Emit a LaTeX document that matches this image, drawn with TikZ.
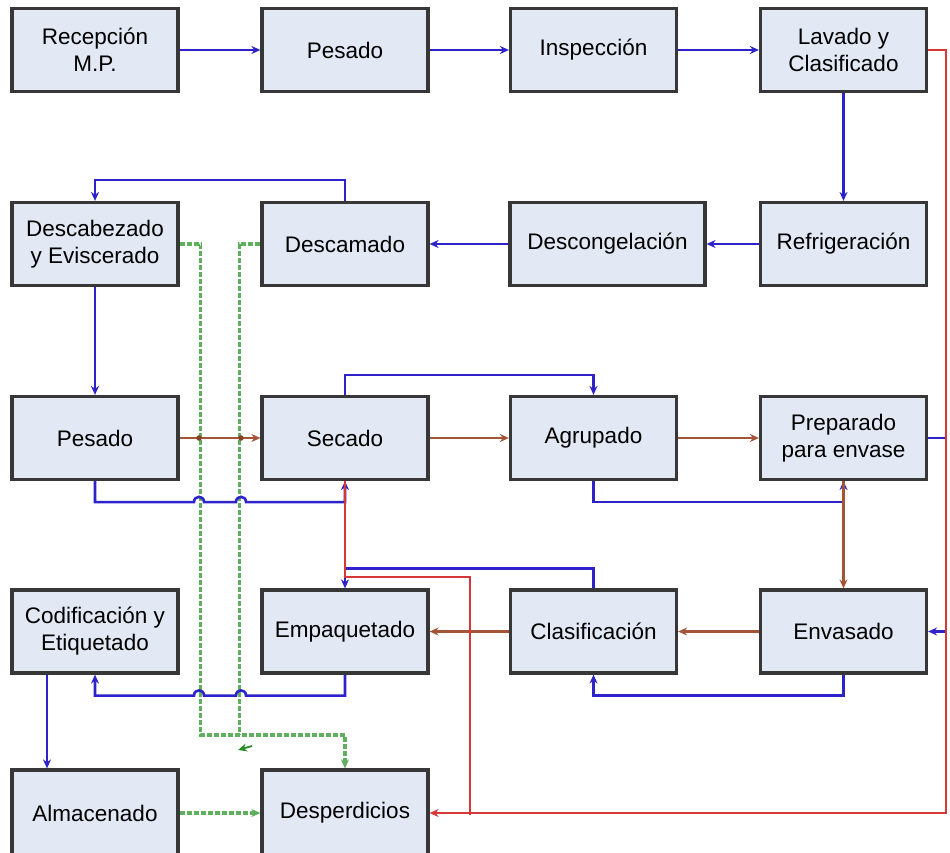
\documentclass[tikz,border=0pt]{standalone}
\usepackage{fontspec}
\setmainfont{Liberation Sans}
\usetikzlibrary{arrows.meta}
\definecolor{boxfill}{RGB}{226,232,244}
\definecolor{boxline}{RGB}{55,55,55}
\definecolor{fblue}{RGB}{45,35,200}
\definecolor{fbrown}{RGB}{165,85,55}
\definecolor{fred}{RGB}{215,55,55}
\definecolor{fgreen}{RGB}{95,175,95}
\definecolor{dgreen}{RGB}{40,140,40}
\begin{document}
\begin{tikzpicture}[x=1pt,y=-1pt,
  box/.style={draw=boxline,line width=3.2pt,fill=boxfill,inner sep=0pt,align=center,
    font=\fontsize{22.5}{27}\selectfont,minimum width=166pt,minimum height=83pt},
  tip/.style={-{Stealth[length=9pt,width=8pt]}},
  bl/.style={draw=fblue,line width=2.6pt,tip},
  br/.style={draw=fbrown,line width=2.3pt,tip},
  rd/.style={draw=fred,line width=2.3pt},
  gr/.style={draw=fgreen,line width=3.4pt,dash pattern=on 5pt off 2pt},
  grtip/.style={-{Stealth[length=9pt,width=8pt,fill=dgreen]}}]
\useasboundingbox (0,0) rectangle (950,853);

% nodes
\node[box] (rec)  at (95,50) {Recepción\\M.P.};
\node[box] (pes1) at (345,50) {Pesado};
\node[box] (insp) at (593.5,50) {Inspección};
\node[box] (lav)  at (843.5,50) {Lavado y\\Clasificado};

\node[box] (desc)    at (95,244) {Descabezado\\y Eviscerado};
\node[box] (descam)  at (345,244) {Descamado};
\node[box,minimum width=195pt] (descong) at (607.5,244) {Descongelación};
\node[box] (refr)    at (843.5,244) {Refrigeración};

\node[box] (pes2) at (95,438) {Pesado};
\node[box] (sec)  at (345,438) {Secado};
\node[box] (agr)  at (593.5,438) {Agrupado};
\node[box] (prep) at (843.5,438) {Preparado\\para envase};

\node[box] (cod)  at (95,631.5) {Codificación y\\Etiquetado};
\node[box] (emp)  at (345,631.5) {Empaquetado};
\node[box] (clas) at (593.5,631.5) {Clasificación};
\node[box] (env)  at (843.5,631.5) {Envasado};

\node[box,minimum height=86pt] (alm)  at (95,813) {Almacenado};
\node[box,minimum height=86pt] (desp) at (345,813) {Desperdicios};

% green dashed waste lines
\draw[gr,grtip] (desc.east) -- ++(21,0) -- ++(0,491) -| (desp.north);
\draw[gr] (descam.west) -- ++(-21,0) -- ++(0,491);
\draw[draw=dgreen,line width=1.8pt,grtip] (252,746) -- (238,750);
\draw[gr,grtip] (alm.east) -- (desp.west);

% blue main flow
\draw[bl] (rec.east) -- (pes1.west);
\draw[bl] (pes1.east) -- (insp.west);
\draw[bl] (insp.east) -- (lav.west);
\draw[bl] (lav.south) -- (refr.north);
\draw[bl] (refr.west) -- (descong.east);
\draw[bl] (descong.west) -- (descam.east);
\draw[bl] (descam.north) -- ++(0,-21) -| (desc.north);
\draw[bl] (desc.south) -- (pes2.north);
\draw[bl] (pes2.south) -- ++(0,21) coordinate (pb) -- (pb -| 194,0) .. controls +(0,-7) and +(0,-7) .. ++(10,0)
   -- (pb -| 236,0) .. controls +(0,-7) and +(0,-7) .. ++(10,0) -| (sec.south);
\draw[bl] (sec.north) -- ++(0,-20) -| (agr.north);
\draw[bl] (agr.south) -- ++(0,21) -| (prep.south);
\draw[bl] (prep.east) -- ++(18,0) |- (env.east);
\draw[bl] (env.south) -- ++(0,21) -| (clas.south);
\draw[bl] (clas.north) -- ++(0,-20) -| (emp.north);
\draw[bl] (emp.south) -- ++(0,21) coordinate (eb) -- (eb -| 246,0) .. controls +(0,-7) and +(0,-7) .. ++(-10,0)
   -- (eb -| 204,0) .. controls +(0,-7) and +(0,-7) .. ++(-10,0) -| (cod.south);
\draw[bl] ([xshift=-48pt]cod.south) -- ([xshift=-48pt]alm.north);

% brown product flow
\draw[br] (pes2.east) -- (sec.west);
\fill[fbrown!80!black] (199,438) circle (2.8);
\fill[fbrown!80!black] (241,438) circle (2.8);
\draw[br] (sec.east) -- (agr.west);
\draw[br] (agr.east) -- (prep.west);
\draw[br] (prep.south) -- (env.north);
\draw[br] (env.west) -- (clas.east);
\draw[br] (clas.west) -- (emp.east);

% red waste lines
\draw[rd] (sec.south) -- ++(0,96) -- ++(125,0) -- ++(0,238);
\draw[rd,-{Stealth[length=9pt,width=8pt]}] (lav.east) -- ++(18,0) |- (desp.east);
\end{tikzpicture}
\end{document}
